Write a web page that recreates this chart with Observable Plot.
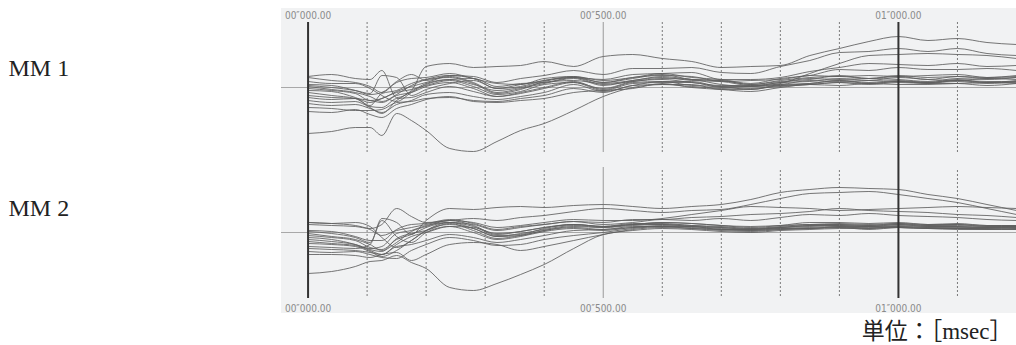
<!DOCTYPE html>
<html><head><meta charset="utf-8">
<script src="https://cdn.jsdelivr.net/npm/d3@7"></script>
<script src="https://cdn.jsdelivr.net/npm/@observablehq/plot@0.6"></script>
<style>body{margin:0;background:#fff}</style>
</head><body><div id="chart"></div>
<script>
// time grid (ms)
const timesMs = [0,40,80,105,125,150,175,200,240,280,320,360,400,450,500,550,600,650,700,750,800,850,900,950,1000,1050,1100,1150,1200];
const panels = ["MM 1", "MM 2"];
// amplitude (arbitrary units, 0 = baseline) for each trial trace
const mm1Series = [
  [-1,-3,-6,-13,-11,-4,1,5,11,5,-5,-1,4,9,2,7,10,7,6,2,5,9,8,9,8,6,9,8,10],
  [1,-2,-5,-9,-14,-7,2,8,12,9,-1,1,7,10,5,9,13,8,7,3,7,10,11,9,12,10,11,9,10],
  [-3,-4,-10,-15,-11,-5,-2,2,7,1,-7,-4,3,5,-1,6,8,5,2,2,3,7,6,7,6,5,8,5,7],
  [-5,-8,-11,-18,-6,-3,4,8,10,4,-6,-2,6,10,3,6,9,8,3,1,5,6,9,7,10,8,7,9,8],
  [-8,-10,-11,-13,-15,-8,-5,1,5,-1,-9,-5,0,6,-2,5,6,6,1,1,2,4,7,4,6,4,7,5,5],
  [3,2,-3,-7,-5,5,9,10,14,9,4,3,9,11,7,10,14,10,8,4,9,12,18,17,20,18,18,19,17],
  [6,4,4,-1,-8,-14,-5,3,8,9,1,4,5,10,8,13,14,15,8,8,10,16,20,24,23,22,24,21,22],
  [11,13,9,8,17,-10,-3,21,24,20,21,22,26,21,31,33,29,26,20,21,22,32,39,46,51,47,49,45,43],
  [10,7,5,1,-5,6,13,7,12,11,5,9,12,17,13,19,19,20,15,14,21,27,35,36,39,36,39,34,32],
  [-13,-15,-14,-19,-20,-11,-10,-5,1,-4,-9,-6,-1,5,-3,4,5,5,0,1,4,14,24,32,33,34,33,32,29],
  [-16,-18,-17,-21,-25,-17,-13,-7,-5,-9,-12,-9,-5,3,-4,2,6,2,1,-2,3,4,7,5,7,5,7,6,6],
  [-20,-21,-23,-23,-22,-15,-14,-11,-10,-13,-14,-11,-8,-1,-5,2,3,3,-2,-1,1,3,5,3,5,4,4,5,4],
  [-24,-25,-22,-27,-30,-21,-17,-12,-9,-14,-15,-13,-11,-5,-3,-1,4,0,-2,-4,0,3,2,4,3,3,4,2,4],
  [-46,-44,-40,-40,-48,-26,-33,-43,-61,-64,-54,-43,-36,-23,-9,0,3,1,-1,-2,2,3,5,4,6,5,6,4,6],
  [2,0,-3,-6,12,10,-8,-2,4,7,-1,3,7,11,5,10,12,11,6,7,8,12,11,12,11,12,13,10,12],
  [-10,-12,-11,-20,-26,-13,-4,4,8,3,-3,0,5,7,4,7,11,8,7,3,6,8,12,9,11,8,11,10,11]
];
const mm2Series = [
  [-3,-5,-8,-15,-17,-7,-2,5,10,4,-4,-1,3,7,5,8,8,6,5,3,5,7,7,6,8,6,6,5,6],
  [-1,-4,-7,-12,-18,-10,1,6,12,7,-2,1,5,8,6,9,9,7,6,4,6,8,8,7,9,7,8,6,6],
  [-5,-7,-12,-17,-19,-6,-1,2,9,2,-6,-3,2,5,3,6,6,6,3,3,4,4,6,4,6,5,4,4,5],
  [-7,-9,-12,-16,-14,-1,2,7,10,6,-3,-2,4,8,6,8,10,9,7,5,7,10,10,9,10,8,9,7,7],
  [-9,-11,-13,-18,-22,-12,-4,0,6,0,-7,-4,1,4,2,5,6,4,3,2,3,4,5,3,5,4,3,3,4],
  [2,1,-4,-8,-8,3,8,9,13,9,3,6,8,11,8,10,13,12,14,12,15,18,17,19,17,16,15,13,12],
  [10,9,10,6,-5,-15,-8,2,10,8,2,5,8,11,10,13,13,15,16,18,19,21,24,22,21,20,18,17,15],
  [-14,-15,-16,-12,14,10,-2,12,24,23,25,26,25,27,28,26,24,26,28,33,40,43,45,44,43,38,34,28,22],
  [8,7,6,4,8,24,16,10,12,14,12,15,17,21,24,22,20,22,23,28,34,39,40,41,38,34,30,24,18],
  [10,9,7,3,-3,2,5,8,12,10,5,7,10,13,12,12,14,18,22,26,25,24,22,23,24,25,26,25,24],
  [-16,-17,-18,-20,-22,-14,-12,-8,-2,-5,-10,-7,-3,2,3,5,7,6,4,3,5,6,7,6,7,6,6,5,5],
  [-19,-20,-19,-22,-25,-26,-18,-12,-5,-8,-13,-12,-7,-3,0,4,6,5,3,2,4,5,6,6,6,5,5,5,4],
  [-22,-22,-23,-25,-22,-20,-28,-22,-12,-10,-12,-18,-14,-8,-2,3,5,4,2,1,3,4,5,5,5,4,4,4,3],
  [-41,-39,-34,-29,-28,-23,-30,-36,-55,-58,-51,-42,-32,-16,-2,2,4,3,1,0,2,3,4,4,5,4,4,3,3],
  [1,-1,-5,-10,12,-4,-10,0,6,5,-1,1,5,8,6,8,10,9,7,6,7,8,9,8,9,8,8,7,7],
  [-11,-12,-14,-19,-24,-18,-8,2,8,4,-4,-3,2,6,5,7,8,7,5,4,5,7,8,7,8,7,7,6,6]
];
const tickValues = [0, 500, 1000];
const tickLabels = ["00\u2033000.00", "00\u2033500.00", "01\u2033000.00"];
const majorTicks = [0, 1000];
const midTicks = [500];
const minorTicks = [100, 200, 300, 400, 600, 700, 800, 900, 1100];
const unitLabel = "単位：［msec］";

// layout: vertical offset of each panel's baseline (in y units)
const panelOffset = {"MM 1": 0, "MM 2": -145};

const rows = [];
[[panels[0], mm1Series], [panels[1], mm2Series]].forEach(([panel, series]) => {
  series.forEach((vals, i) => {
    vals.forEach((v, j) => rows.push({panel, key: panel + "-" + i, t: timesMs[j], v: v + panelOffset[panel]}));
  });
});

const tickFont = "'Liberation Sans Narrow','DejaVu Sans Condensed','Liberation Sans',sans-serif";
const serif = "'Liberation Serif','Noto Sans CJK JP',serif";

const chart = Plot.plot({
  width: 1016,
  height: 345,
  marginTop: 0, marginBottom: 0, marginRight: 0, marginLeft: 281,
  x: {domain: [-45, 1200], axis: null},
  y: {domain: [-258, 87], axis: null},
  marks: [
    Plot.rect([0], {x1: -45, x2: 1200, y1: -226, y2: 79, fill: "#f1f2f3"}),
    Plot.ruleY(panels, {y: d => panelOffset[d], x1: -45, x2: 1200, stroke: "#a8a8a8", strokeWidth: 1}),
    Plot.ruleX(minorTicks, {y1: 65, y2: -65, stroke: "#7a7a7a", strokeWidth: 1, strokeDasharray: "2,2"}),
    Plot.ruleX(minorTicks, {y1: -83, y2: -211, stroke: "#7a7a7a", strokeWidth: 1, strokeDasharray: "2,2"}),
    Plot.ruleX(midTicks, {y1: 65, y2: -65, stroke: "#9a9a9a", strokeWidth: 1}),
    Plot.ruleX(midTicks, {y1: -80, y2: -211, stroke: "#9a9a9a", strokeWidth: 1}),
    Plot.line(rows, {x: "t", y: "v", z: "key", stroke: "#5e5e5e", strokeWidth: 1, strokeOpacity: 0.85, curve: "monotone-x"}),
    Plot.ruleX(majorTicks, {y1: 65, y2: -211, stroke: "#333", strokeWidth: 2}),
    Plot.text(tickValues, {x: d => d, y: 72, text: (d, i) => tickLabels[i], fontSize: 10, fill: "#8a8a8a", fontFamily: tickFont}),
    Plot.text(tickValues, {x: d => d, y: -221, text: (d, i) => tickLabels[i], fontSize: 10, fill: "#8a8a8a", fontFamily: tickFont}),
    Plot.text([panels[0]], {frameAnchor: "left", dx: -273, y: 19, text: d => d, textAnchor: "start", fontSize: 24, fill: "#222", fontFamily: serif}),
    Plot.text([panels[1]], {frameAnchor: "left", dx: -273, y: panelOffset["MM 2"] + 24, text: d => d, textAnchor: "start", fontSize: 24, fill: "#222", fontFamily: serif}),
    Plot.text([unitLabel], {x: 1200, y: -244, dx: -4, text: d => d, textAnchor: "end", fontSize: 23, fill: "#222", fontFamily: serif})
  ]
});
document.getElementById("chart").appendChild(chart);
</script>
</body></html>
